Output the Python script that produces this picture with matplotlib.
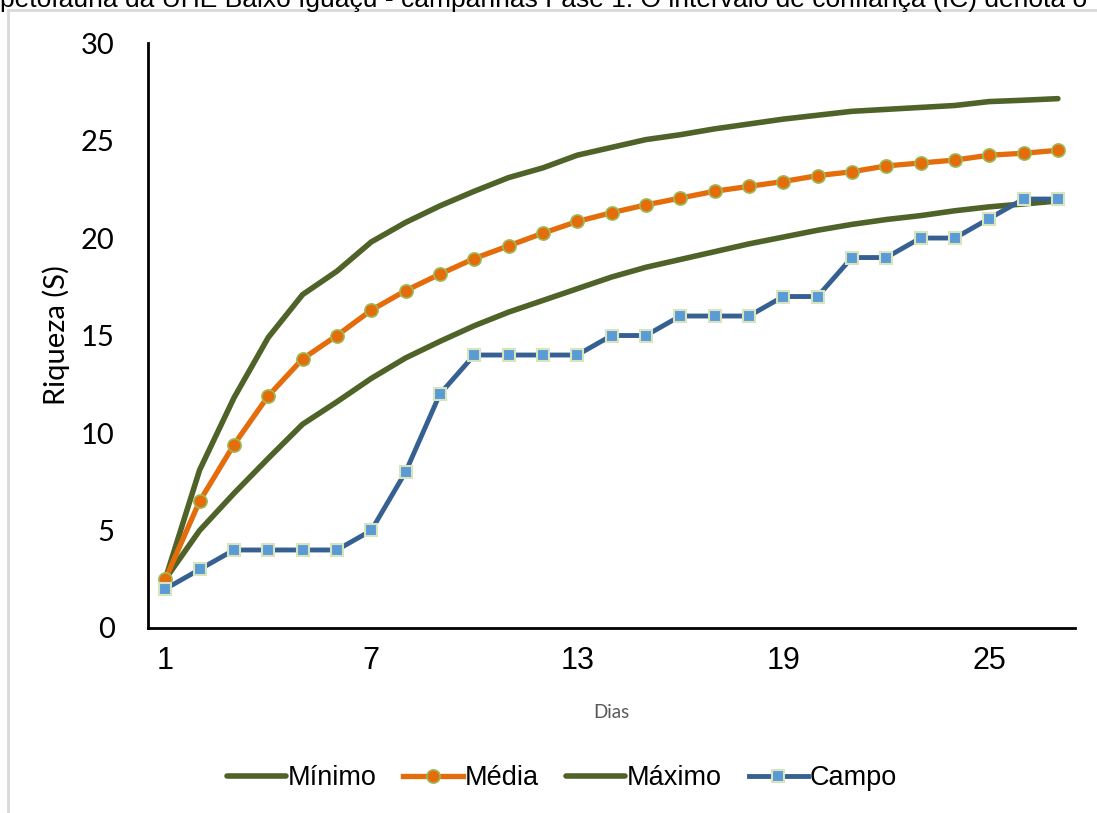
import matplotlib
matplotlib.use("Agg")
import matplotlib.pyplot as plt
from matplotlib.lines import Line2D

dias = list(range(1, 28))
minimo = [2.5, 5.0, 6.9, 8.7, 10.45, 11.6, 12.8, 13.85, 14.7, 15.5, 16.2, 16.8, 17.4,
          18.0, 18.5, 18.9, 19.3, 19.7, 20.05, 20.4, 20.7, 20.95, 21.15, 21.4, 21.6, 21.75, 21.9]
media = [2.5, 6.5, 9.4, 11.9, 13.8, 15.0, 16.3, 17.3, 18.15, 18.95, 19.6, 20.25, 20.85,
         21.3, 21.7, 22.05, 22.4, 22.65, 22.9, 23.2, 23.4, 23.7, 23.85, 24.0, 24.25, 24.35, 24.5]
maximo = [2.5, 8.1, 11.8, 14.9, 17.1, 18.3, 19.8, 20.8, 21.65, 22.4, 23.1, 23.6, 24.25,
          24.65, 25.05, 25.3, 25.6, 25.85, 26.1, 26.3, 26.5, 26.6, 26.7, 26.8, 27.0, 27.07, 27.15]
campo = [2, 3, 4, 4, 4, 4, 5, 8, 12, 14, 14, 14, 14, 15, 15, 16, 16, 16, 17, 17, 19, 19,
         20, 20, 21, 22, 22]
xticks = [1, 7, 13, 19, 25]
yticks = [0, 5, 10, 15, 20, 25, 30]

fig = plt.figure(figsize=(10.97, 8.13), dpi=100)
ax = fig.add_axes([0.135, 0.2276, 0.845, 0.7194])

green = "#4F6228"
ax.plot(dias, minimo, color=green, lw=4.0, solid_capstyle="round", zorder=2, label="Mínimo")
ax.plot(dias, maximo, color=green, lw=4.0, solid_capstyle="round", zorder=2, label="Máximo")
ax.plot(dias, media, color="#E46C0A", lw=3.8, marker="o", ms=9.5, mfc="#E46C0A",
        mec="#9BBB59", mew=1.2, zorder=3, label="Média")
ax.plot(dias, campo, color="#376092", lw=3.5, marker="s", ms=9, mfc="#5B9BD5",
        mec="#D7E4BD", mew=1.5, zorder=4, label="Campo")

ax.set_xlim(0.5, 27.5)
ax.set_ylim(0, 30)
ax.set_xticks(xticks)
ax.set_xticklabels([str(v) for v in xticks], fontsize=22, family="Liberation Sans")
ax.set_yticks(yticks)
ax.set_yticklabels([str(v) for v in yticks], fontsize=21, family="Lato")
ax.tick_params(axis="x", length=0, pad=13)
ax.tick_params(axis="y", length=0, pad=24)
for s in ["top", "right"]:
    ax.spines[s].set_visible(False)
for s in ["left", "bottom"]:
    ax.spines[s].set_linewidth(2)
    ax.spines[s].set_color("black")
ax.set_ylabel("Riqueza (S)", fontsize=21, family="Lato", labelpad=8)
ax.set_xlabel("Dias", fontsize=13.5, family="Lato", color="#595959", labelpad=20)

handles = [
    Line2D([], [], color=green, lw=4.0, solid_capstyle="round"),
    Line2D([], [], color="#E46C0A", lw=3.8, marker="o", ms=9.5, mfc="#E46C0A", mec="#9BBB59", mew=1.2),
    Line2D([], [], color=green, lw=4.0, solid_capstyle="round"),
    Line2D([], [], color="#376092", lw=3.5, marker="s", ms=9, mfc="#5B9BD5", mec="#D7E4BD", mew=1.5),
]
labels = ["Mínimo", "Média", "Máximo", "Campo"]
fig.legend(handles, labels, loc="center", bbox_to_anchor=(0.512, 0.043), ncol=4, frameon=False,
           prop={"family": "Liberation Sans", "size": 19.5}, handlelength=2.2, handletextpad=0.05,
           columnspacing=1.0)

# frame lines of the chart area
fig.add_artist(Line2D([8 / 1097, 1], [1 - 10 / 813, 1 - 10 / 813], transform=fig.transFigure,
                      color="#D9D9D9", lw=2))
fig.add_artist(Line2D([8 / 1097, 8 / 1097], [0, 1 - 10 / 813], transform=fig.transFigure,
                      color="#D9D9D9", lw=2))

fig.text(0.0, 1 - 7 / 813, "petofauna da UHE Baixo Iguaçu - campanhas Fase 1. O intervalo de confiança (IC) denota o",
         ha="left", va="baseline", fontsize=19, family="Liberation Sans")

fig.savefig("out.png", dpi=100)
